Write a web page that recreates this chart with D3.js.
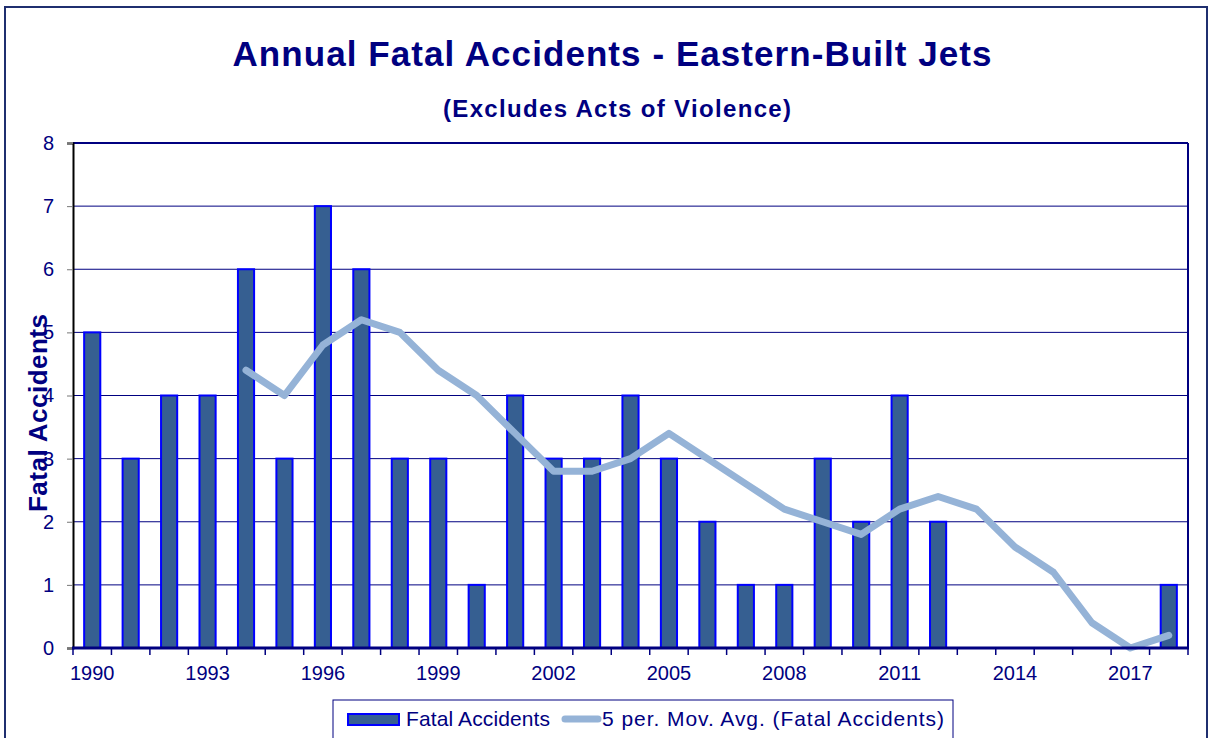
<!DOCTYPE html>
<html><head><meta charset="utf-8">
<script src="https://cdn.jsdelivr.net/npm/d3@7"></script>
<style>
html,body{margin:0;padding:0;background:#fff;}
svg{display:block;font-family:Arial,"Liberation Sans",sans-serif;}
</style></head>
<body>
<svg id="chart" width="1208" height="738"></svg>
<script>
const years = [1990,1991,1992,1993,1994,1995,1996,1997,1998,1999,2000,2001,2002,2003,2004,2005,2006,2007,2008,2009,2010,2011,2012,2013,2014,2015,2016,2017,2018];
const fatalAccidents = [5,3,4,4,6,3,7,6,3,3,1,4,3,3,4,3,2,1,1,3,2,4,2,0,0,0,0,0,1];
const movAvgYears = [1994,1995,1996,1997,1998,1999,2000,2001,2002,2003,2004,2005,2006,2007,2008,2009,2010,2011,2012,2013,2014,2015,2016,2017,2018];
const movAvg = [4.4,4.0,4.8,5.2,5.0,4.4,4.0,3.4,2.8,2.8,3.0,3.4,3.0,2.6,2.2,2.0,1.8,2.2,2.4,2.2,1.6,1.2,0.4,0.0,0.2];
const xLabelYears = [1990,1993,1996,1999,2002,2005,2008,2011,2014,2017];
const yTicks = [0,1,2,3,4,5,6,7,8];

const navy = "#000080";
const FONT = "Arial, 'Liberation Sans', sans-serif";
const svg = d3.select("#chart");
const L = 73, R = 1188, T = 143, B = 648;

// outer border
svg.append("rect").attr("x",5).attr("y",7).attr("width",1202).attr("height",740)
  .attr("fill","none").attr("stroke","#1f2f6f").attr("stroke-width",2);

const x = d3.scaleBand().domain(years).range([L,R]).paddingInner(0.58).paddingOuter(0.29);
const y = d3.scaleLinear().domain([0,8]).range([B,T]);

// gridlines
svg.append("g").selectAll("line").data(yTicks.filter(d=>d>0 && d<8)).join("line")
  .attr("x1",L).attr("x2",R).attr("y1",d=>y(d)).attr("y2",d=>y(d))
  .attr("stroke",navy).attr("stroke-width",1);

// bars
svg.append("g").selectAll("rect").data(years.map((yr,i)=>({yr,v:fatalAccidents[i]})).filter(d=>d.v>0)).join("rect")
  .attr("x",d=>x(d.yr)).attr("width",x.bandwidth())
  .attr("y",d=>y(d.v)).attr("height",d=>y(0)-y(d.v))
  .attr("fill","#365f91").attr("stroke","#0000ff").attr("stroke-width",2);

// moving average line
const line = d3.line().x(d=>x(d.yr)+x.bandwidth()/2).y(d=>y(d.v));
svg.append("path").datum(movAvgYears.map((yr,i)=>({yr,v:movAvg[i]})))
  .attr("d",line).attr("fill","none").attr("stroke","#95b3d7").attr("stroke-width",7)
  .attr("stroke-linejoin","round").attr("stroke-linecap","round");

// plot border top/right
svg.append("line").attr("x1",L).attr("x2",R).attr("y1",T).attr("y2",T).attr("stroke",navy).attr("stroke-width",2);
svg.append("line").attr("x1",R).attr("x2",R).attr("y1",T).attr("y2",B).attr("stroke",navy).attr("stroke-width",2);

// y axis
const yAxis = svg.append("g").attr("transform",`translate(${L},0)`)
  .call(d3.axisLeft(y).tickValues(yTicks).tickFormat(d3.format("d")).tickSize(6).tickPadding(13));
yAxis.select(".domain").attr("stroke","#000").attr("stroke-width",2);
yAxis.selectAll(".tick line").attr("stroke","#777");
yAxis.selectAll(".tick text").attr("fill",navy).attr("font-size",20).attr("font-family",FONT);

// x axis: ticks at category boundaries
const step = x.step();
const boundaries = d3.range(years.length+1).map(i => L + i*step);
svg.append("g").selectAll("line").data(boundaries).join("line")
  .attr("x1",d=>d).attr("x2",d=>d).attr("y1",B).attr("y2",B+7)
  .attr("stroke",navy).attr("stroke-width",1.5);
const xAxis = svg.append("g").attr("transform",`translate(0,${B})`)
  .call(d3.axisBottom(x).tickValues(xLabelYears).tickSize(0).tickPadding(18));
xAxis.select(".domain").remove();
xAxis.selectAll(".tick text").attr("fill",navy).attr("font-size",20).attr("font-family",FONT);
svg.append("line").attr("x1",L-1).attr("x2",R+1).attr("y1",B).attr("y2",B).attr("stroke",navy).attr("stroke-width",3);

// titles
svg.append("text").attr("x",612).attr("y",66).attr("text-anchor","middle")
  .attr("font-size",35).attr("font-weight","bold").attr("fill",navy)
  .attr("textLength",759).attr("lengthAdjust","spacing")
  .text("Annual Fatal Accidents - Eastern-Built Jets");
svg.append("text").attr("x",617).attr("y",117).attr("text-anchor","middle")
  .attr("font-size",24).attr("font-weight","bold").attr("fill",navy)
  .attr("textLength",348).attr("lengthAdjust","spacing")
  .text("(Excludes Acts of Violence)");
svg.append("text").attr("transform","translate(47,413) rotate(-90)").attr("text-anchor","middle")
  .attr("font-size",26).attr("font-weight","bold").attr("fill",navy)
  .attr("textLength",198).attr("lengthAdjust","spacing")
  .text("Fatal Accidents");

// legend
const lg = svg.append("g");
lg.append("rect").attr("x",333).attr("y",700).attr("width",620).attr("height",40)
  .attr("fill","#fff").attr("stroke",navy).attr("stroke-width",1);
lg.append("rect").attr("x",348).attr("y",714).attr("width",51).attr("height",11)
  .attr("fill","#365f91").attr("stroke","#0000ff").attr("stroke-width",2);
lg.append("text").attr("x",406).attr("y",726).attr("font-size",21).attr("fill",navy)
  .attr("textLength",144).attr("lengthAdjust","spacing").text("Fatal Accidents");
lg.append("line").attr("x1",565).attr("x2",598).attr("y1",719).attr("y2",719)
  .attr("stroke","#95b3d7").attr("stroke-width",7).attr("stroke-linecap","round");
lg.append("text").attr("x",602).attr("y",726).attr("font-size",21).attr("fill",navy)
  .attr("textLength",342).attr("lengthAdjust","spacing").text("5 per. Mov. Avg. (Fatal Accidents)");
</script>
</body></html>
